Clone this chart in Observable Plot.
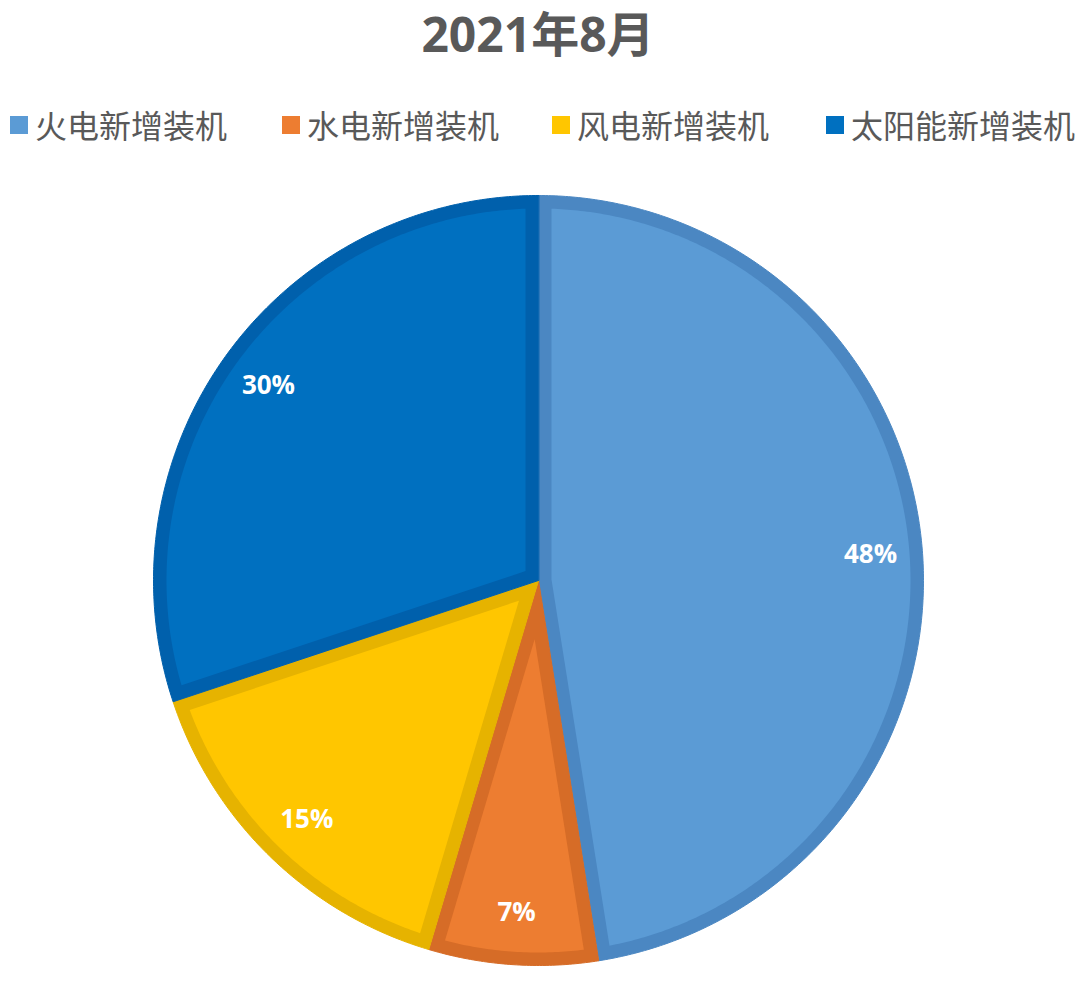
<!DOCTYPE html>
<html><head><meta charset="utf-8">
<script src="https://cdn.jsdelivr.net/npm/d3@7"></script>
<script src="https://cdn.jsdelivr.net/npm/@observablehq/plot@0.6"></script>
<style>
body{margin:0;background:#fff;}
#wrap{position:relative;width:1080px;height:992px;font-family:"Open Sans","Noto Sans CJK SC",sans-serif;overflow:hidden;}
#title{position:absolute;left:0;width:1076px;top:2px;height:64px;line-height:64px;text-align:center;font-size:48px;font-weight:700;color:#595959;}
.leg{position:absolute;top:104px;height:40px;line-height:40px;font-size:32px;color:#595959;font-family:"Noto Sans CJK SC",sans-serif;white-space:nowrap;}
.sw{position:absolute;width:18px;height:18px;top:116px;}
#chart{position:absolute;left:0;top:170px;}
</style>
</head><body>
<div id="wrap">
  <div id="title">2021年8月</div>
  <div id="legend"></div>
  <div id="chart"></div>
</div>
<script>
const title = "2021年8月";
const categories = ["火电新增装机", "水电新增装机", "风电新增装机", "太阳能新增装机"];
const values = [47.5, 7.1, 15.3, 30.1];
const fillColors = ["#5B9BD5", "#ED7D31", "#FFC600", "#0070C0"];
const borderColors = ["#4B87C2", "#D66C27", "#E6B300", "#0060AC"];

// legend
const legX = [10, 282, 552, 826];
const legend = document.getElementById("legend");
categories.forEach((c, i) => {
  const s = document.createElement("div");
  s.className = "sw"; s.style.left = legX[i] + "px"; s.style.background = fillColors[i];
  legend.appendChild(s);
  const t = document.createElement("div");
  t.className = "leg"; t.style.left = (legX[i] + 25) + "px"; t.textContent = c;
  legend.appendChild(t);
});

const R = 385;            // pixel radius
const d = 13 / R;         // border inset in data units
const total = d3.sum(values);
let acc = 0;
const slices = categories.map((c, i) => {
  const a0 = acc / total * 2 * Math.PI;
  acc += values[i];
  const a1 = acc / total * 2 * Math.PI;
  return {c, v: values[i], a0, a1, i};
});

function arcPts(r, a0, a1, k, color, out) {
  const n = Math.max(2, Math.ceil((a1 - a0) / (Math.PI / 360)));
  for (let j = 0; j <= n; j++) {
    const a = a0 + (a1 - a0) * j / n;
    out.push({x: r * Math.sin(a), y: r * Math.cos(a), k, color});
  }
}

const outer = [], inner = [];
slices.forEach(s => {
  outer.push({x: 0, y: 0, k: s.i, color: borderColors[s.i]});
  arcPts(1, s.a0, s.a1, s.i, borderColors[s.i], outer);
  const th = s.a1 - s.a0, mid = (s.a0 + s.a1) / 2;
  const h = d / Math.sin(th / 2);
  inner.push({x: h * Math.sin(mid), y: h * Math.cos(mid), k: s.i, color: fillColors[s.i]});
  const dl = Math.asin(d / (1 - d));
  arcPts(1 - d, s.a0 + dl, s.a1 - dl, s.i, fillColors[s.i], inner);
});

const labelR = 0.865;
const labels = slices.map(s => {
  const m = (s.a0 + s.a1) / 2;
  return {x: labelR * Math.sin(m), y: labelR * Math.cos(m), text: Math.round(s.v / total * 100) + "%"};
});

const plot = Plot.plot({
  width: 1080,
  height: 822,
  marginLeft: 538 - R,
  marginRight: 1080 - 538 - R,
  marginTop: 410 - R,
  marginBottom: 822 - 410 - R,
  x: {domain: [-1, 1], axis: null},
  y: {domain: [-1, 1], axis: null},
  color: {type: "identity"},
  marks: [
    Plot.line(outer, {x: "x", y: "y", z: "k", fill: "color", stroke: "color", strokeWidth: 1, curve: "linear-closed"}),
    Plot.line(inner, {x: "x", y: "y", z: "k", fill: "color", stroke: "none", curve: "linear-closed"}),
    Plot.text(labels, {x: "x", y: "y", text: "text", fill: "white", fontSize: 26, fontWeight: "bold", fontFamily: "Open Sans, Noto Sans CJK SC, sans-serif"})
  ]
});
document.getElementById("chart").appendChild(plot);
</script>
</body></html>
